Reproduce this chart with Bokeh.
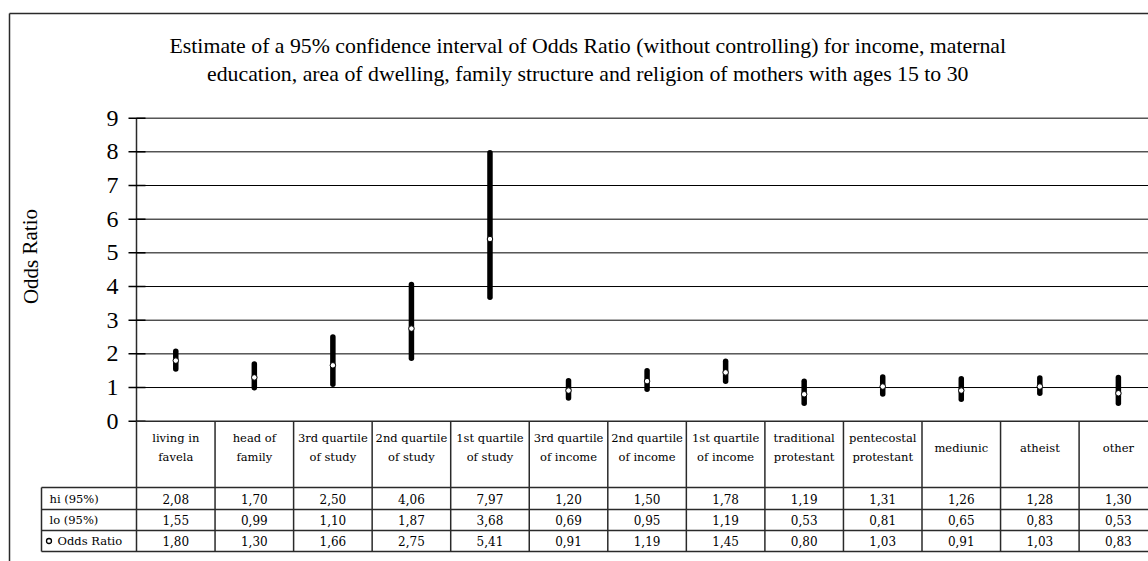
from bokeh.plotting import figure
from bokeh.models import Range1d, ColumnDataSource
from bokeh.core.properties import value
from bokeh.embed import file_html
from bokeh.resources import INLINE

# ---- data -------------------------------------------------------------
categories = [
    "living in\nfavela", "head of\nfamily", "3rd quartile\nof study",
    "2nd quartile\nof study", "1st quartile\nof study", "3rd quartile\nof income",
    "2nd quartile\nof income", "1st quartile\nof income", "traditional\nprotestant",
    "pentecostal\nprotestant", "mediunic", "atheist", "other",
]
hi_95 = [2.08, 1.70, 2.50, 4.06, 7.97, 1.20, 1.50, 1.78, 1.19, 1.31, 1.26, 1.28, 1.30]
lo_95 = [1.55, 0.99, 1.10, 1.87, 3.68, 0.69, 0.95, 1.19, 0.53, 0.81, 0.65, 0.83, 0.53]
odds_ratio = [1.80, 1.30, 1.66, 2.75, 5.41, 0.91, 1.19, 1.45, 0.80, 1.03, 0.91, 1.03, 0.83]
y_ticks = [0, 1, 2, 3, 4, 5, 6, 7, 8, 9]
row_labels = ["hi (95%)", "lo (95%)", "Odds Ratio"]
title_lines = [
    "Estimate of a 95% confidence interval of Odds Ratio (without controlling)  for income, maternal",
    "education, area of dwelling,  family structure and religion of mothers with ages 15 to 30",
]

# ---- geometry ---------------------------------------------------------
W, H = 1148, 561
AXIS_PX = 136.0      # pixel column of the value axis
COL_PX = 78.55       # pixel width of one category column
ZERO_PX = 420.7      # pixel row of value 0
UNIT_PX = 33.67      # pixels per unit of odds ratio


def xd(px):
    return (px - AXIS_PX) / COL_PX


def yd(px):
    return (ZERO_PX - px) / UNIT_PX


SERIF = value("Liberation Serif")
TABLE_FONT = value("DejaVu Serif")
INK = "#000000"
LINE = "#2a2a2a"

p = figure(width=W, height=H, output_backend="svg", toolbar_location=None,
           x_range=Range1d(xd(0), xd(W)), y_range=Range1d(yd(H), yd(0)),
           min_border=0, min_border_left=0, min_border_right=0,
           min_border_top=0, min_border_bottom=0)
p.axis.visible = False
p.grid.visible = False
p.outline_line_color = None
p.background_fill_color = "white"
p.border_fill_color = "white"

n = len(categories)
centers = [i + 0.5 for i in range(n)]

# outer chart-area frame
p.segment(x0=[xd(9), xd(9)], y0=[yd(13), yd(13)], x1=[xd(9), xd(W + 5)],
          y1=[yd(H + 5), yd(13)], line_color=LINE, line_width=1.5)

# title
p.text(x=[xd(590)] * 2, y=[yd(45), yd(73)], text=title_lines,
       text_font=SERIF, text_font_size="21.8px", text_align="center",
       text_baseline="middle", text_color=INK)

# horizontal gridlines
grid_y = [t for t in y_ticks if t > 0]
p.segment(x0=[0] * len(grid_y), y0=grid_y, x1=[xd(W + 5)] * len(grid_y), y1=grid_y,
          line_color=INK, line_width=1)

# value axis with crossing ticks
p.segment(x0=[0], y0=[0], x1=[0], y1=[max(y_ticks)], line_color=LINE, line_width=1.5)
p.segment(x0=[xd(128)] * len(y_ticks), y0=y_ticks, x1=[xd(145)] * len(y_ticks),
          y1=y_ticks, line_color=INK, line_width=1.5)
p.text(x=[xd(118)] * len(y_ticks), y=y_ticks, text=[str(t) for t in y_ticks],
       text_font=SERIF, text_font_size="24px", text_align="right",
       text_baseline="middle", text_color=INK)
p.text(x=[xd(30)], y=[yd(256)], text=["Odds Ratio"], angle=1.5708,
       text_font=SERIF, text_font_size="21px", text_align="center",
       text_baseline="middle", text_color=INK)

# confidence intervals and point estimates
src = ColumnDataSource(dict(x=centers, lo=lo_95, hi=hi_95, odds=odds_ratio))
p.segment(x0="x", y0="lo", x1="x", y1="hi", source=src, line_color=INK,
          line_width=5.5, line_cap="round")
p.scatter(x="x", y="odds", source=src, marker="circle", size=5.5,
          fill_color="white", line_color=INK, line_width=1)

# ---- data table under the chart ------------------------------------
rule_px = [487, 509, 530, 551]
rule_y = [yd(v) for v in rule_px]
row_mid = [(a + b) / 2 for a, b in zip(rule_y[:-1], rule_y[1:])]
table_bottom = rule_y[-1]

# horizontal rules
p.segment(x0=[0], y0=[0], x1=[xd(W + 5)], y1=[0], line_color=LINE, line_width=1.5)
p.segment(x0=[xd(41)] * len(rule_y), y0=rule_y, x1=[xd(W + 5)] * len(rule_y), y1=rule_y,
          line_color=LINE, line_width=1.5)
# vertical rules
vx = list(range(n + 1))
p.segment(x0=vx, y0=[0] * len(vx), x1=vx, y1=[table_bottom] * len(vx),
          line_color=LINE, line_width=1.5)
p.segment(x0=[xd(41)], y0=[rule_y[0]], x1=[xd(41)], y1=[table_bottom],
          line_color=LINE, line_width=1.5)

# column headers
p.text(x=centers, y=[yd(447)] * n, text=categories, text_font=TABLE_FONT,
       text_font_size="11.5px", text_align="center", text_baseline="middle",
       text_line_height=1.3, text_color=INK)

# row labels
p.text(x=[xd(49), xd(49), xd(57)], y=row_mid, text=row_labels, text_font=TABLE_FONT,
       text_font_size="11.5px", text_align="left", text_baseline="middle",
       text_color=INK)
p.scatter(x=[xd(48.5)], y=[row_mid[2]], marker="circle", size=5,
          fill_color="white", line_color=INK, line_width=1.3)


def fmt(v):
    return f"{v:.2f}".replace(".", ",")


for series, ym in zip([hi_95, lo_95, odds_ratio], row_mid):
    p.text(x=centers, y=[ym] * n, text=[fmt(v) for v in series], text_font=TABLE_FONT,
           text_font_size="12px", text_align="center", text_baseline="middle",
           text_color=INK)

open("out.html", "w").write(file_html(p, INLINE))
